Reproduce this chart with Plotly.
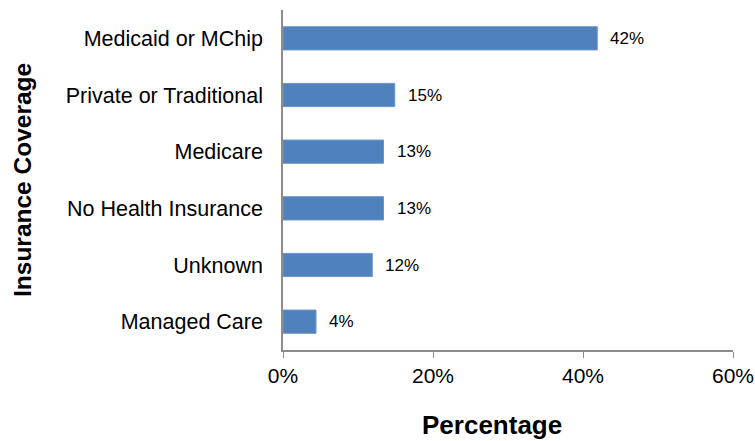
import plotly.graph_objects as go

categories = ["Medicaid or MChip", "Private or Traditional", "Medicare",
              "No Health Insurance", "Unknown", "Managed Care"]
values = [41.9, 14.9, 13.4, 13.4, 11.9, 4.4]
labels = ["42%", "15%", "13%", "13%", "12%", "4%"]
tick_vals = [0, 20, 40, 60]
tick_text = ["0%", "20%", "40%", "60%"]

font = "Liberation Sans, Arial, sans-serif"

fig = go.Figure()
fig.add_trace(go.Bar(
    x=values, y=categories, orientation="h",
    marker=dict(color="#4F81BD", line=dict(color="#6a94c8", width=1)),
    width=0.41, hoverinfo="skip",
))
for v, c, t in zip(values, categories, labels):
    fig.add_annotation(x=v, y=c, text=t, showarrow=False, xanchor="left",
                       xshift=11, font=dict(family=font, size=17, color="#000"))

# axis titles
fig.add_annotation(xref="paper", yref="paper", x=0.464, y=0, yanchor="middle",
                   yshift=-75, showarrow=False, text="<b>Percentage</b>",
                   font=dict(family=font, size=26, color="#000"))
fig.add_annotation(xref="paper", yref="paper", x=-0.58, y=0.5, xanchor="center",
                   yanchor="middle", textangle=-90, showarrow=False,
                   text="<b>Insurance Coverage</b>",
                   font=dict(family=font, size=24.5, color="#000"))

fig.update_layout(
    width=755, height=441,
    margin=dict(l=283, r=22, t=10, b=91),
    paper_bgcolor="white", plot_bgcolor="white",
    showlegend=False,
    font=dict(family=font, color="#000"),
    xaxis=dict(range=[0, 60], tickvals=tick_vals, ticktext=tick_text,
               showgrid=False, zeroline=False, showline=True, automargin=False,
               linecolor="#8c8c8c", linewidth=1.5, ticks="outside",
               tickcolor="#8c8c8c", ticklen=6, tickfont=dict(size=21),
               fixedrange=True),
    yaxis=dict(categoryorder="array", categoryarray=categories[::-1],
               showgrid=False, zeroline=False, showline=True, automargin=False,
               linecolor="#8c8c8c", linewidth=1.5, ticks="",
               ticklabelstandoff=14, tickfont=dict(size=21.5),
               fixedrange=True),
)
fig.write_html("out.html", config={"displayModeBar": False},
               post_script="document.body.style.margin='0';")
